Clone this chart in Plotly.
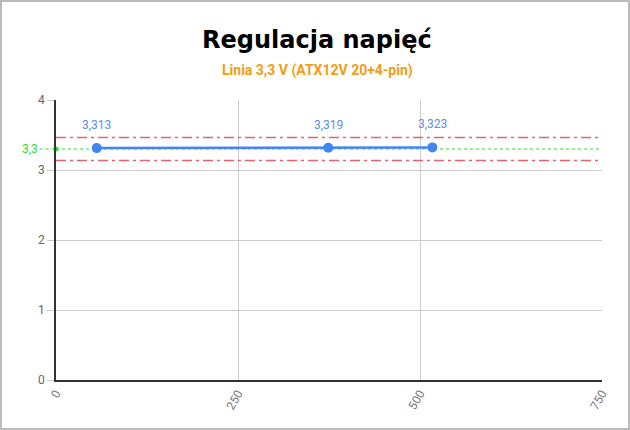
import plotly.graph_objects as go

# odczyty z wykresu
obciazenie = [56, 374, 517]
napiecie = [3.313, 3.319, 3.323]
nominal = 3.3
tol_gorna = 3.465
tol_dolna = 3.135
x_zakres = [0, 750]
x_ticks = [0, 250, 500, 750]
y_ticks = [0, 1, 2, 3, 4]

fig = go.Figure()

# tolerancje +/- 5%
for yv in [tol_gorna, tol_dolna]:
    fig.add_trace(go.Scatter(x=x_zakres, y=[yv, yv], mode="lines",
                             line=dict(color="rgba(228,70,85,0.85)", width=1.5,
                                       dash="10px,4px,3px,4px"),
                             hoverinfo="skip", showlegend=False))

# wartosc nominalna
fig.add_trace(go.Scatter(x=x_zakres, y=[nominal, nominal], mode="lines",
                         line=dict(color="#33dd33", width=1, dash="dot"),
                         hoverinfo="skip", showlegend=False))
fig.add_trace(go.Scatter(x=[x_zakres[0]], y=[nominal], mode="markers",
                         marker=dict(color="#33dd33", size=5),
                         cliponaxis=False, hoverinfo="skip", showlegend=False))

fig.add_trace(go.Scatter(x=obciazenie, y=napiecie, mode="lines+markers",
                         line=dict(color="#4285f4", width=2.5),
                         marker=dict(color="#4285f4", size=10),
                         showlegend=False))

for xv, yv in zip(obciazenie, napiecie):
    fig.add_annotation(x=xv, y=yv, text=f"{yv:.3f}".replace(".", ","),
                       showarrow=False, yshift=23,
                       font=dict(family="Roboto", size=12, color="#5b8ee6"))

fig.add_shape(type="line", xref="paper", yref="y", x0=-0.03, x1=0, y0=nominal, y1=nominal,
              line=dict(color="#33dd33", width=1, dash="dot"))

fig.add_annotation(text="<b>Regulacja napięć</b>", xref="paper", yref="paper",
                   x=0.5, y=1.215, yanchor="middle", showarrow=False,
                   font=dict(family="DejaVu Sans", size=24, color="#000000"),
                   xshift=-12)
fig.add_annotation(text="<b>Linia 3,3 V (ATX12V 20+4-pin)</b>", xref="paper", yref="paper",
                   x=0.5, y=1.107, yanchor="middle", showarrow=False,
                   font=dict(family="Roboto", size=14, color="#f39c12"),
                   xshift=-12)
fig.add_annotation(text="3,3", xref="paper", yref="y", x=0, y=nominal,
                   xanchor="right", showarrow=False, xshift=-16,
                   font=dict(family="Roboto", size=12, color="#33dd33"))

# ramka
fig.add_shape(type="rect", xref="paper", yref="paper",
              x0=-55 / 546, x1=1 + 27 / 546, y0=-49 / 280, y1=1 + 99 / 280,
              line=dict(color="#bbbbbb", width=2))

fig.update_layout(
    width=630, height=430,
    margin=dict(l=56, r=28, t=100, b=50),
    paper_bgcolor="white", plot_bgcolor="white",
    separators=", ",
    font=dict(family="Roboto", size=12, color="#666666"),
    xaxis=dict(range=x_zakres, tickvals=x_ticks, tickangle=-60,
               showgrid=True, gridcolor="#cccccc", gridwidth=1,
               zeroline=False, showline=True, linecolor="#333333", linewidth=1.5,
               ticks="", tickfont=dict(color="#777777")),
    yaxis=dict(range=[0, 4], tickvals=y_ticks,
               showgrid=True, gridcolor="#cccccc", gridwidth=1,
               zeroline=False, showline=True, linecolor="#333333", linewidth=1.5,
               ticks="outside", ticklen=7, tickcolor="#cccccc",
               tickfont=dict(color="#666666")),
)

fig.write_html("out.html", config={"displayModeBar": False},
               post_script="document.body.style.margin='0';")
